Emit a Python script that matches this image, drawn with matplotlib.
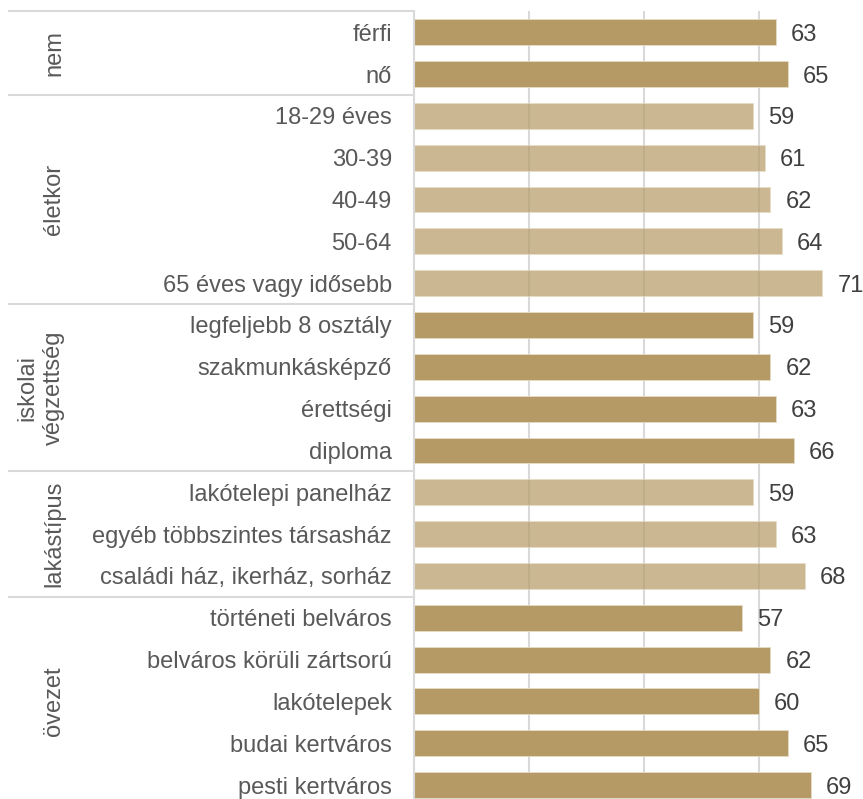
import matplotlib.pyplot as plt
import matplotlib.transforms as mtransforms

plt.rcParams['font.family'] = ['Liberation Sans', 'DejaVu Sans']

# data
categories = [
    'férfi', 'nő',
    '18-29 éves', '30-39', '40-49', '50-64', '65 éves vagy idősebb',
    'legfeljebb 8 osztály', 'szakmunkásképző', 'érettségi', 'diploma',
    'lakótelepi panelház', 'egyéb többszintes társasház', 'családi ház, ikerház, sorház',
    'történeti belváros', 'belváros körüli zártsorú', 'lakótelepek',
    'budai kertváros', 'pesti kertváros',
]
values = [63, 65, 59, 61, 62, 64, 71, 59, 62, 63, 66, 59, 63, 68, 57, 62, 60, 65, 69]
groups = ['nem', 'életkor', 'iskolai\nvégzettség', 'lakástípus', 'övezet']
group_sizes = [2, 5, 4, 3, 5]

dark = '#b59a66'
grid_col = '#d9d9d9'

W, H = 863, 799
fig = plt.figure(figsize=(W / 100, H / 100), dpi=100)

# axes placement in pixels
x0_px, px_per_unit, xmax = 413.5, 5.758, 78
y_top_px, y_bot_px = 11.3, 806.0
ax = fig.add_axes([x0_px / W, (H - y_bot_px) / H,
                   xmax * px_per_unit / W, (y_bot_px - y_top_px) / H])

pos = list(range(len(categories)))
colors = []
alphas = []
for gi, n in enumerate(group_sizes):
    colors += [dark] * n
    alphas += [1.0 if gi % 2 == 0 else 0.7] * n

for p, v, c, a in zip(pos, values, colors, alphas):
    ax.barh(p, v, height=0.62, color=c, alpha=a, edgecolor='#e6dcc6',
            linewidth=0.6, zorder=2)
    ax.text(v + 2.6, p, str(v), va='center_baseline', ha='left', fontsize=17,
            color='#404040')

ax.set_xlim(0, xmax)
ax.set_ylim(len(categories) - 0.5, -0.5)
ax.set_xticks([20, 40, 60])
ax.set_xticklabels([])
ax.grid(axis='x', color=grid_col, linewidth=1.5, zorder=0)
ax.set_axisbelow(True)
ax.set_yticks(pos)
ax.set_yticklabels(categories, fontsize=17, color='#595959')
ax.tick_params(axis='both', length=0)
ax.tick_params(axis='y', pad=15.5)
for s in ['top', 'right', 'bottom']:
    ax.spines[s].set_visible(False)
ax.spines['left'].set_color(grid_col)
ax.spines['left'].set_linewidth(1.5)

# group separators and labels on the left
trans = mtransforms.blended_transform_factory(fig.transFigure, ax.transData)
start = 0
ax.plot([9 / W, x0_px / W], [-0.5, -0.5], transform=trans, color=grid_col,
        linewidth=1.5, clip_on=False)
for g, n in zip(groups, group_sizes):
    end = start + n
    if end < len(categories):
        ax.plot([9 / W, x0_px / W], [end - 0.5, end - 0.5], transform=trans,
                color=grid_col, linewidth=1.5, clip_on=False)
    ax.text(65 / W, (start + end - 1) / 2, g, transform=trans, rotation=90,
            ha='right', va='center', multialignment='center', fontsize=17,
            color='#595959', linespacing=1.25)
    start = end

fig.savefig('out.png', dpi=100)
